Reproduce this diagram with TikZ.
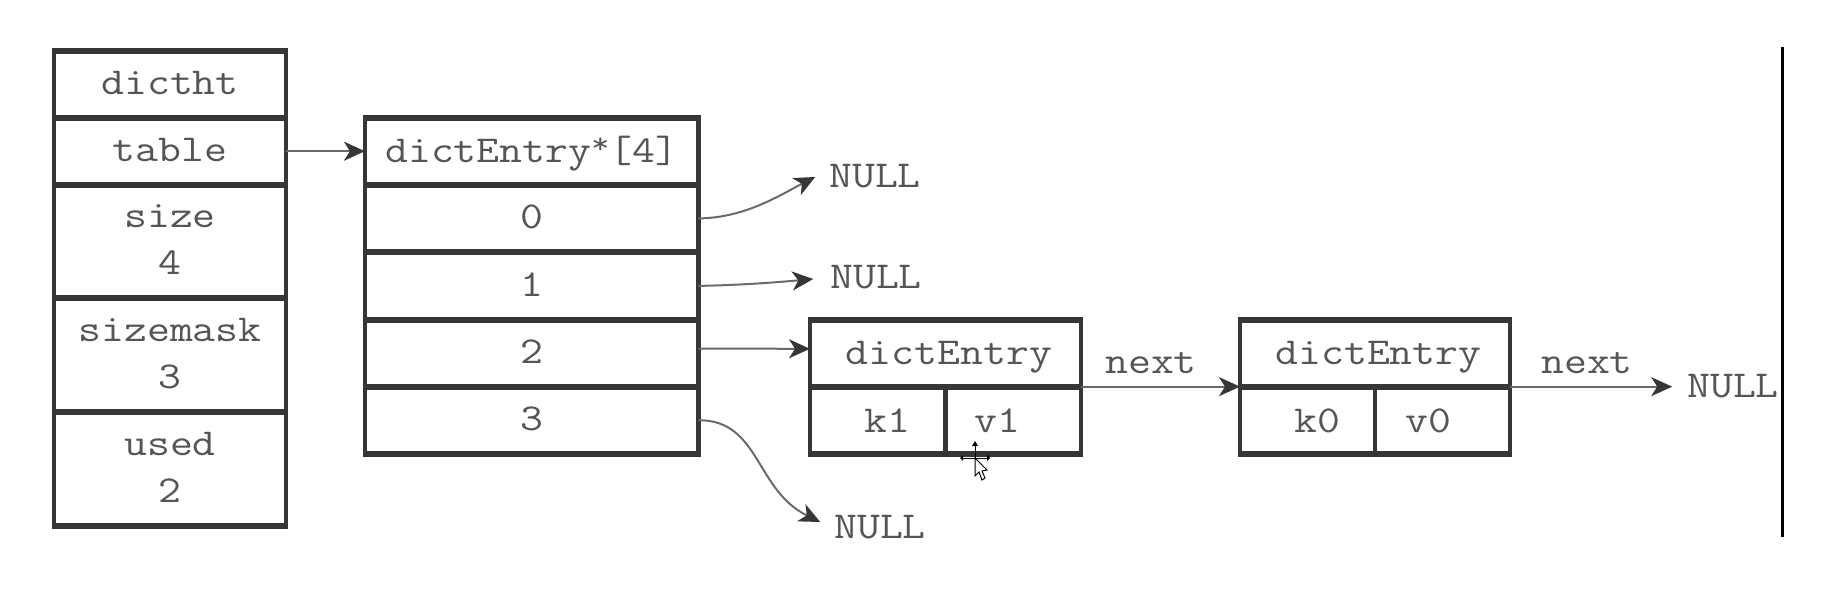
\documentclass[tikz,border=0pt]{standalone}
\usepackage{fontspec}
\usetikzlibrary{arrows.meta}
\newfontfamily\cf[FakeStretch=1.17]{Latin Modern Mono}
\definecolor{ink}{HTML}{363636}
\definecolor{txt}{HTML}{555555}
\definecolor{wire}{HTML}{6A6A6A}
\tikzset{
  x=1pt,y=-1pt,
  cell/.style={draw=ink,line width=4.2pt,inner sep=0pt,outer sep=0pt,text depth=3pt,
    minimum width=#1,font=\cf\fontsize{38}{47}\selectfont,text=txt,align=center},
  low/.style={text depth=0pt},
  hbar/.style={draw=ink,line width=6pt,shorten <=-2.1pt,shorten >=-2.1pt},
  plain/.style={inner ysep=0pt,inner xsep=12pt,outer sep=0pt,
    font=\cf\fontsize{38}{45}\selectfont,text=txt},
  arr/.style={draw=wire,line width=2pt,
    -{Stealth[length=21pt,width=19pt,inset=6pt,color=ink]}}
}
\begin{document}
\begin{tikzpicture}
\useasboundingbox (0,0) rectangle (1830,606);
% left table
\node[cell=232pt,minimum height=67pt] (a0) at (170,84) {dictht};
\node[cell=232pt,minimum height=67.3pt] (a1) at (170,151.2) {table};
\node[cell=232pt,minimum height=113.2pt] (a2) at (170,241.4) {size\\4};
\node[cell=232pt,minimum height=114pt] (a3) at (170,355) {sizemask\\3};
\node[cell=232pt,minimum height=114pt] (a4) at (170,469) {used\\2};
% middle table
\node[cell=333.5pt,minimum height=67.3pt] (m) at (531.7,151.2) {dictEntry\raisebox{9pt}{\fontsize{30}{30}\selectfont *}[4]};
\node[cell=333.5pt,minimum height=67.3pt] (m0) at (531.7,218.4) {0};
\node[cell=333.5pt,minimum height=67.6pt] (m1) at (531.7,285.9) {1};
\node[cell=333.5pt,minimum height=66.8pt] (m2) at (531.7,353.1) {2};
\node[cell=333.5pt,minimum height=67.3pt] (m3) at (531.7,420.2) {3};
% first entry
\node[cell=271pt,low,minimum height=66.7pt] (e1) at (945.5,353.3) {\hspace*{7pt}dictEntry};
\node[cell=135.5pt,low,minimum height=67.3pt] (k1) at (877.7,420.3) {\hspace*{20pt}k1};
\node[cell=135.5pt,low,minimum height=67.3pt] (v1) at (1013.2,420.3) {v1\hspace*{32pt}};
% second entry
\node[cell=270pt,low,minimum height=66.7pt] (e2) at (1375,353.3) {\hspace*{7pt}dictEntry};
\node[cell=135pt,low,minimum height=67.3pt] (k0) at (1307.5,420.3) {\hspace*{20pt}k0};
\node[cell=135pt,low,minimum height=67.3pt] (v0) at (1442.5,420.3) {v0\hspace*{28pt}};
% heavy horizontal rules of the tables
\foreach \c in {a0,a1,a2,a3,a4,m,m0,m1,m2,m3,e1,k1,v1,e2,k0,v0}{
  \draw[hbar] (\c.north west) -- (\c.north east);
  \draw[hbar] (\c.south west) -- (\c.south east);
}
% free labels
\node[plain] (n0) at (875,176) {NULL};
\node[plain] (n1) at (876,277) {NULL};
\node[plain] (n3) at (880,527) {NULL};
\node[plain] (n4) at (1733,386) {NULL};
\node[plain] (t1) at (1151,363) {next};
\node[plain] (t2) at (1587,363) {next};
% connectors
\draw[arr] (a1.east) -- (m.west);
\draw[arr] (m0.east) .. controls (745,218) and (780,195) .. ([yshift=-1pt,xshift=-2pt]n0.west);
\draw[arr] (m1.east) .. controls (745,285) and (780,282) .. ([yshift=-2pt,xshift=-5pt]n1.west);
\draw[arr] ([yshift=4.5pt]m2.east) -- ([yshift=4.5pt]e1.west);
\draw[arr] (m3.east) .. controls (760,420) and (755,490) .. ([yshift=5pt,xshift=-2pt]n3.west);
\draw[arr] (e1.south east) -- (e2.south west);
\draw[arr] (e2.south east) -- ([xshift=-3pt]e2.south east -| n4.west);
% right edge rule
\coordinate (rt) at (1782,47);
\coordinate (rb) at (1782,537);
\draw[black,line width=3pt] (rt) -- (rb);
% mouse cursor left in the screenshot
\begin{scope}[shift={(975,458)}]
  \draw[black,line width=1pt] (0,-14) -- (0,6) (-12,0) -- (12,0);
  \fill[black] (0,-17) -- (-3,-12) -- (3,-12) -- cycle
    (-12,-3) -- (-12,3) -- (-15,0) -- cycle
    (12,-3) -- (12,3) -- (15,0) -- cycle;
  \draw[black,fill=white,line width=1pt] (0,0) -- (0,18) -- (4,14) -- (7,22) -- (10,20) -- (7,13) -- (12,12) -- cycle;
\end{scope}
\end{tikzpicture}
\end{document}
